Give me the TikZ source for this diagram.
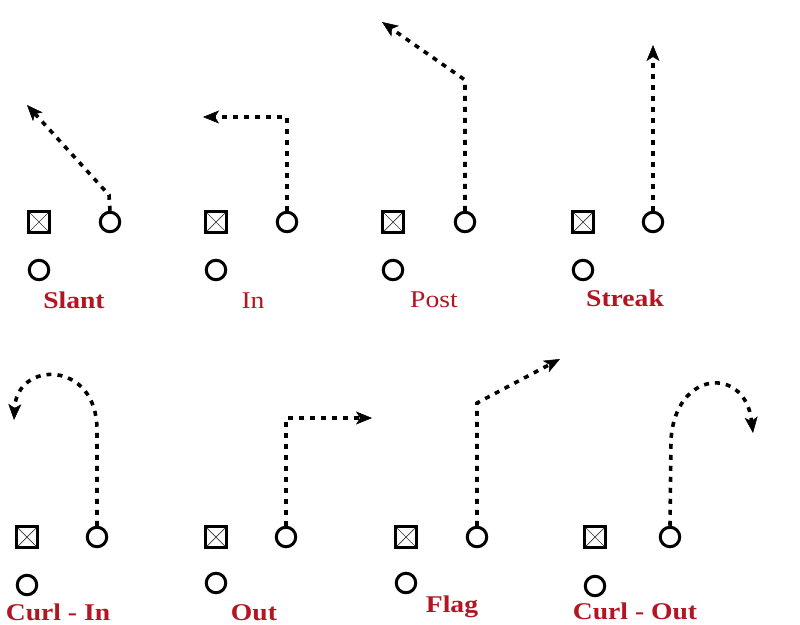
\documentclass[tikz,border=0pt]{standalone}
\usepackage{fontspec}
\setmainfont{Liberation Serif}
\usetikzlibrary{arrows.meta}
\definecolor{labelred}{RGB}{178,22,34}
\begin{document}
\begin{tikzpicture}[x=1pt,y=-1pt,
  qb/.style={draw,line width=3pt,minimum size=21pt,inner sep=0pt,
    path picture={\draw[line width=0.7pt,black!80] (path picture bounding box.north west) -- (path picture bounding box.south east)
      (path picture bounding box.north east) -- (path picture bounding box.south west);}},
  pl/.style={draw,circle,line width=3pt,minimum size=19.5pt,inner sep=0pt},
  route/.style={line width=3.6pt,dash pattern=on 5pt off 6pt,-{Stealth[length=16pt,width=13pt,inset=4pt,line width=0.5pt]}},
  lab/.style={text=labelred,font=\fontsize{24}{26}\selectfont\bfseries,anchor=base,inner sep=0pt,xscale=1.15},
  labr/.style={lab,font=\fontsize{24}{26}\selectfont}]
\useasboundingbox (0,0) rectangle (800,624);
\fill[white] (0,0) rectangle (800,624);
% Slant
\node[qb] (b1) at (39,222) {};
\node[pl] (r1) at (110,222) {};
\node[pl] (l1) at (39,270) {};
\node[lab] (t1) at (74,308) {Slant};
\coordinate (s1a) at (109,195);
\coordinate (s1b) at (27,105);
\draw[route] (r1.north) -- (s1a) -- (s1b);
% In
\node[qb] (b2) at (216,222) {};
\node[pl] (r2) at (287,222) {};
\node[pl] (l2) at (216,270) {};
\node[labr] (t2) at (253,308) {In};
\coordinate (s2a) at (287,117);
\coordinate (s2b) at (203,117);
\draw[route] (r2.north) -- (s2a) -- (s2b);
% Post
\node[qb] (b3) at (393,222) {};
\node[pl] (r3) at (465,222) {};
\node[pl] (l3) at (393,270) {};
\node[labr] (t3) at (434,307) {Post};
\coordinate (s3a) at (465,80);
\coordinate (s3b) at (382,22);
\draw[route] (r3.north) -- (s3a) -- (s3b);
% Streak
\node[qb] (b4) at (583,222) {};
\node[pl] (r4) at (653,222) {};
\node[pl] (l4) at (583,270) {};
\node[lab] (t4) at (625,306) {Streak};
\coordinate (s4a) at (653,45);
\draw[route] (r4.north) -- (s4a);
% Curl - In
\node[qb] (b5) at (27,537) {};
\node[pl] (r5) at (97,537) {};
\node[pl] (l5) at (27,585) {};
\node[lab] (t5) at (58,620) {Curl - In};
\coordinate (s5a) at (97,430);
\coordinate (s5b) at (14,420);
\draw[route] (r5.north) -- (s5a) .. controls (97,360) and (17,360) .. (s5b);
% Out
\node[qb] (b6) at (216,537) {};
\node[pl] (r6) at (286,537) {};
\node[pl] (l6) at (216,583) {};
\node[lab] (t6) at (254,620) {Out};
\coordinate (s6a) at (286,418);
\coordinate (s6b) at (372,418);
\draw[route] (r6.north) -- (s6a) -- (s6b);
% Flag
\node[qb] (b7) at (406,537) {};
\node[pl] (r7) at (477,537) {};
\node[pl] (l7) at (406,583) {};
\node[lab] (t7) at (452,612) {Flag};
\coordinate (s7a) at (477,403);
\coordinate (s7b) at (560,359);
\draw[route] (r7.north) -- (s7a) -- (s7b);
% Curl - Out
\node[qb] (b8) at (595,537) {};
\node[pl] (r8) at (670,537) {};
\node[pl] (l8) at (595,586) {};
\node[lab] (t8) at (635,619) {Curl - Out};
\coordinate (s8a) at (671,440);
\coordinate (s8b) at (753,433);
\draw[route] (r8.north) -- (s8a) .. controls (675,370) and (745,365) .. (s8b);
\end{tikzpicture}
\end{document}
